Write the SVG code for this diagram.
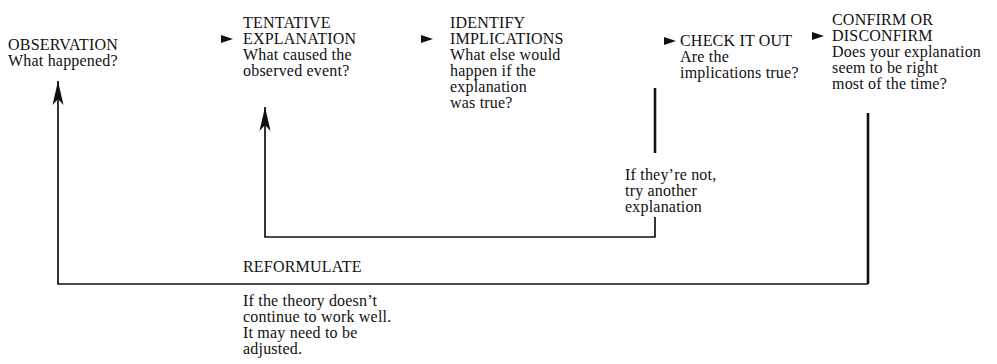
<svg xmlns="http://www.w3.org/2000/svg" width="997" height="364" viewBox="0 0 997 364">
<style>
  text { font-family: "Liberation Serif", "Times New Roman", serif; font-size: 16px; fill: #111; letter-spacing: 0.2px; }
  .ln { fill: none; stroke: #111; stroke-width: 1.7; }
  .thick { fill: none; stroke: #111; stroke-width: 2.6; }
  .tri { fill: #111; }
</style>
<defs>
  <marker id="up" viewBox="0 -6 24 12" refX="24" refY="0" markerWidth="24" markerHeight="12" markerUnits="userSpaceOnUse" orient="auto">
    <path d="M24,0 L0,-5.5 L6,0 L0,5.5 Z" fill="#111"/>
  </marker>
</defs>
<rect width="997" height="364" fill="#fff"/>

<g id="observation">
  <text x="8" y="50">OBSERVATION</text>
  <text x="8" y="66">What happened?</text>
</g>
<g id="tentative">
  <text x="243" y="28">TENTATIVE</text>
  <text x="243" y="44">EXPLANATION</text>
  <text x="243" y="60">What caused the</text>
  <text x="243" y="76">observed event?</text>
</g>
<g id="identify">
  <text x="450" y="28">IDENTIFY</text>
  <text x="450" y="44">IMPLICATIONS</text>
  <text x="450" y="60">What else would</text>
  <text x="450" y="76">happen if the</text>
  <text x="450" y="92">explanation</text>
  <text x="450" y="108">was true?</text>
</g>
<g id="check">
  <text x="680" y="46">CHECK IT OUT</text>
  <text x="680" y="62">Are the</text>
  <text x="680" y="78">implications true?</text>
</g>
<g id="confirm">
  <text x="832" y="25">CONFIRM OR</text>
  <text x="832" y="41">DISCONFIRM</text>
  <text x="832" y="57">Does your explanation</text>
  <text x="832" y="73">seem to be right</text>
  <text x="832" y="89">most of the time?</text>
</g>
<g id="retry">
  <text x="625" y="180">If they’re not,</text>
  <text x="625" y="196">try another</text>
  <text x="625" y="212">explanation</text>
</g>
<g id="reformulate">
  <text x="243" y="272">REFORMULATE</text>
  <text x="243" y="306">If the theory doesn’t</text>
  <text x="243" y="322">continue to work well.</text>
  <text x="243" y="338">It may need to be</text>
  <text x="243" y="354">adjusted.</text>
</g>

<g id="connectors">
  <polygon class="tri" points="221,35 233,39 221,43"/>
  <polygon class="tri" points="421,35 433,39 421,43"/>
  <polygon class="tri" points="664,37 676,41 664,45"/>
  <polygon class="tri" points="812,32 824,36 812,40"/>
  <line class="thick" x1="655" y1="88" x2="655" y2="153"/>
  <path class="ln" d="M655,217 L655,237 L265,237 L265,107" marker-end="url(#up)"/>
  <line class="thick" x1="868" y1="113" x2="868" y2="284"/>
  <path class="ln" d="M868,284 L58,284 L58,81" marker-end="url(#up)"/>
</g>
</svg>
